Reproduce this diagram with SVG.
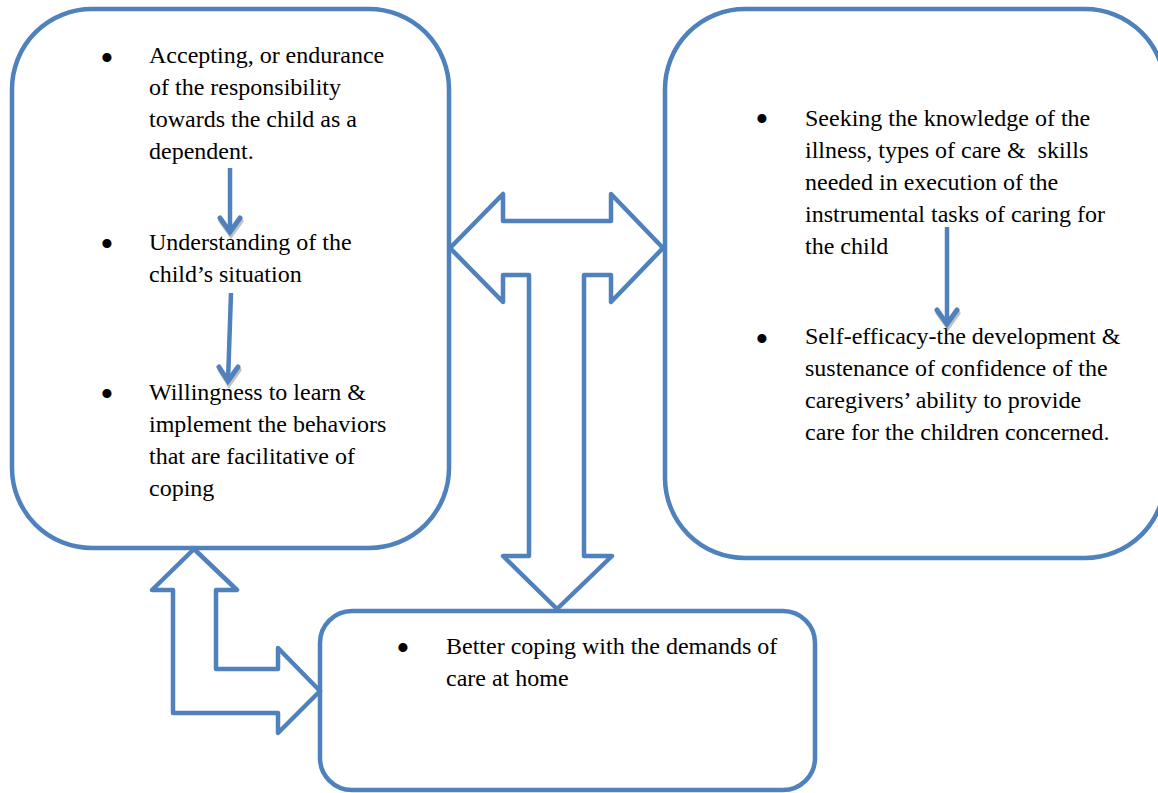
<svg xmlns="http://www.w3.org/2000/svg" width="1158" height="793" viewBox="0 0 1158 793">
<style>
.box{fill:#fff;stroke:#4F81BD;stroke-width:4.5}
.blk{fill:#fff;stroke:#4F81BD;stroke-width:4.5;stroke-linejoin:round}
.t{font-family:"Liberation Serif","Times New Roman",serif;font-size:24px;fill:#000}
.b{font-family:"Liberation Serif","Times New Roman",serif;font-size:38px;fill:#000;text-anchor:middle}
.ln{stroke:#4F81BD;stroke-width:4.5;fill:none}
.hd{stroke:#4F81BD;stroke-width:5;fill:none;stroke-linecap:round;stroke-linejoin:miter}
.sh{stroke:#9a9a9a;stroke-width:5;fill:none;stroke-linecap:round;opacity:0.6}
</style>
<rect width="1158" height="793" fill="#fff"/>
<g id="node-left">
<rect class="box" x="12" y="9" width="437" height="539" rx="80" ry="80"/>
<text class="b" x="107" y="71">•</text>
<text class="t" x="149" y="63">Accepting, or endurance</text>
<text class="t" x="149" y="95">of the responsibility</text>
<text class="t" x="149" y="127">towards the child as a</text>
<text class="t" x="149" y="159">dependent.</text>
<text class="b" x="107" y="257">•</text>
<text class="t" x="149" y="250">Understanding of the</text>
<text class="t" x="149" y="282">child’s situation</text>
<text class="b" x="107" y="407">•</text>
<text class="t" x="149" y="400">Willingness to learn &amp;</text>
<text class="t" x="149" y="432">implement the behaviors</text>
<text class="t" x="149" y="464">that are facilitative of</text>
<text class="t" x="149" y="496">coping</text>
</g>
<g id="node-right">
<rect class="box" x="665" y="9" width="500" height="549" rx="80" ry="80"/>
<text class="b" x="762" y="132">•</text>
<text class="t" x="805" y="126">Seeking the knowledge of the</text>
<text class="t" x="805" y="158" xml:space="preserve">illness, types of care &amp;  skills</text>
<text class="t" x="805" y="190">needed in execution of the</text>
<text class="t" x="805" y="222">instrumental tasks of caring for</text>
<text class="t" x="805" y="254">the child</text>
<text class="b" x="762" y="352">•</text>
<text class="t" x="805" y="344">Self-efficacy-the development &amp;</text>
<text class="t" x="805" y="376">sustenance of confidence of the</text>
<text class="t" x="805" y="408">caregivers’ ability to provide</text>
<text class="t" x="805" y="440">care for the children concerned.</text>
</g>
<g id="node-bottom">
<rect class="box" x="320" y="611" width="495" height="179" rx="32" ry="32"/>
<text class="b" x="403" y="661">•</text>
<text class="t" x="446" y="654">Better coping with the demands of</text>
<text class="t" x="446" y="686">care at home</text>
</g>
<g id="connectors">
<path class="blk" d="M450,248 L503,194 L503,221 L611,221 L611,194 L663,248 L611,302 L611,275 L584,275 L584,556 L612,556 L557,609 L503,556 L529,556 L529,275 L503,275 L503,302 Z"/>
<path class="blk" d="M194,549 L237,590 L216,590 L216,669 L278,669 L278,648 L320,691 L278,733 L278,713 L173,713 L173,590 L152,590 Z"/>
<g id="arrow-1">
<polyline class="sh" points="221,221 231,235 241,221"/>
<line class="ln" x1="230" y1="168" x2="230" y2="232"/>
<polyline class="hd" points="220,218 230,232 240,218"/>
</g>
<g id="arrow-2">
<polyline class="sh" points="220,370 229,384 239,370"/>
<line class="ln" x1="231" y1="293" x2="228" y2="381"/>
<polyline class="hd" points="219,367 228,381 238,367"/>
</g>
<g id="arrow-3">
<polyline class="sh" points="938,313 948,327 958,313"/>
<line class="ln" x1="947" y1="227" x2="947" y2="324"/>
<polyline class="hd" points="937,310 947,324 957,310"/>
</g>
</g>
</svg>
